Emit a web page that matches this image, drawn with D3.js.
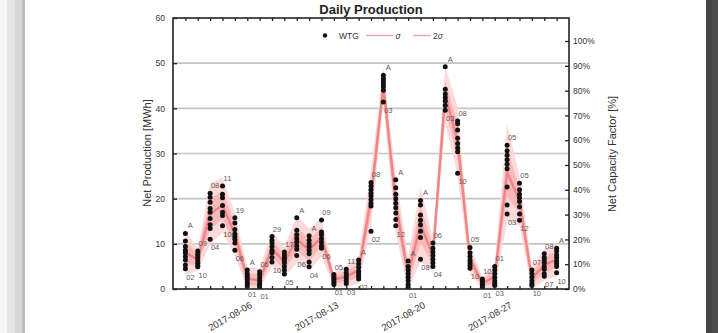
<!DOCTYPE html>
<html>
<head>
<meta charset="utf-8">
<script src="https://cdn.jsdelivr.net/npm/d3@7"></script>
<style>
  html, body { margin: 0; padding: 0; background: #fff; }
  svg { display: block; font-family: "Liberation Sans", Arial, sans-serif; }
</style>
</head>
<body>
<svg id="chart" width="718" height="333"></svg>
<script>
// ---- data ---------------------------------------------------------------
const days = [
  "2017-08-01","2017-08-02","2017-08-03","2017-08-04","2017-08-05","2017-08-06",
  "2017-08-07","2017-08-08","2017-08-09","2017-08-10","2017-08-11","2017-08-12",
  "2017-08-13","2017-08-14","2017-08-15","2017-08-16","2017-08-17","2017-08-18",
  "2017-08-19","2017-08-20","2017-08-21","2017-08-22","2017-08-23","2017-08-24",
  "2017-08-25","2017-08-26","2017-08-27","2017-08-28","2017-08-29","2017-08-30",
  "2017-08-31"
];

// net production of each turbine per day [MWh]
const wtgValues = [
  [12.3, 10.6, 9.4, 8.6, 8.0, 7.2, 6.4, 5.3, 4.5],
  [8.4, 7.8, 7.3, 6.8, 6.2, 5.7, 5.2, 4.9],
  [21.2, 20.3, 19.2, 17.8, 17.0, 15.6, 14.2, 13.4, 11.0],
  [22.8, 21.0, 20.2, 18.5, 17.0, 16.3, 14.0],
  [15.8, 14.6, 13.2, 12.2, 11.6, 11.0, 10.2, 8.6],
  [4.2, 3.4, 2.8, 2.2, 1.6, 1.1, 0.6],
  [3.8, 3.2, 2.5, 1.8, 1.2, 0.7, 0.3],
  [11.6, 10.8, 10.2, 9.4, 8.6, 8.0, 7.0, 6.0],
  [8.2, 7.6, 7.0, 6.4, 5.8, 5.0, 4.2, 3.3],
  [15.8, 13.0, 12.0, 11.2, 10.4, 9.6, 8.8, 7.4],
  [11.8, 10.8, 10.0, 9.4, 8.6, 7.8, 6.0, 4.9],
  [15.3, 12.6, 12.0, 11.2, 10.4, 9.6, 9.0],
  [3.2, 2.7, 2.3, 1.9, 1.5, 1.0],
  [4.4, 3.6, 3.0, 2.4, 1.8, 1.2],
  [6.4, 5.6, 4.8, 4.0, 3.4, 2.8, 2.2],
  [23.6, 22.8, 22.0, 21.2, 20.6, 19.8, 19.0, 18.4, 12.8],
  [47.3, 46.6, 46.0, 45.4, 44.8, 44.0, 41.4],
  [24.2, 22.4, 21.0, 20.0, 19.0, 18.0, 16.8, 15.4, 14.0],
  [6.2, 5.0, 4.2, 3.4, 2.6, 1.8, 1.0, 0.4],
  [19.6, 18.6, 16.4, 15.2, 14.2, 12.8, 11.4, 6.6],
  [10.2, 9.0, 8.2, 7.4, 6.6, 5.8, 5.0],
  [49.2, 44.2, 43.2, 42.4, 41.6, 40.6, 39.6],
  [37.2, 36.6, 35.2, 33.4, 32.2, 31.2, 30.4, 25.6],
  [9.2, 8.0, 7.2, 6.4, 5.8, 5.2, 4.6],
  [2.2, 1.8, 1.4, 1.0, 0.7, 0.4],
  [5.0, 4.2, 3.4, 2.6, 1.8, 1.2, 0.8],
  [31.8, 30.6, 29.6, 28.6, 27.6, 26.6, 22.6, 18.6, 16.6],
  [23.4, 22.0, 21.0, 20.2, 19.4, 18.2, 16.6, 15.2],
  [4.2, 3.4, 2.6, 1.8, 1.2, 0.8],
  [7.8, 7.0, 6.4, 5.8, 5.0, 4.4, 3.4, 2.8],
  [9.0, 8.4, 7.6, 7.0, 6.2, 5.6, 5.0, 3.6]
];

// turbine ids annotated at each day's highest and lowest value
const maxLabels = ["A","09","08","11","19","A","06","29","17","A","A","09","05","11","A","08",
                   "A","A","A","A","06","A","08","05","10","01","05","05","07","08","A"];
const minLabels = ["02","10","04","10","06","01","01","10","05","06","04","06","01","03","02","02",
                   "03","12","01","08","04","03","10","10","01","03","03","12","10","07","10"];

const yTicks = [0, 10, 20, 30, 40, 50, 60];
const gridValues = [10, 20, 30, 40, 50];
const cfTicks = [0, 0.1, 0.2, 0.3, 0.4, 0.5, 0.6, 0.7, 0.8, 0.9, 1.0];
const dateTicks = ["2017-08-06", "2017-08-13", "2017-08-20", "2017-08-27"];
const farmCapacity = 54.9;   // MWh per day at 100 % capacity factor

// ---- layout -------------------------------------------------------------
const svg = d3.select("#chart");
const L = 173, R = 569, T = 18, B = 289;
const parse = d3.timeParse("%Y-%m-%d");
const dates = days.map(parse);

const x = d3.scaleTime()
  .domain([d3.timeDay.offset(dates[0], -1), d3.timeDay.offset(dates[dates.length - 1], 1)])
  .range([L, R]);
const y = d3.scaleLinear().domain([0, 60]).range([B, T]);
const yCF = d3.scaleLinear().domain([0, 60 / farmCapacity]).range([B, T]);

// window frame stripes
const frame = [
  [0, 7, "#f7f7f7"], [7, 8, "#e4e4e4"], [15, 7, "#d8d8d8"], [22, 3, "#c0c0c0"],
  [706, 6, "#444444"], [712, 6, "#4c4c4c"]
];
svg.selectAll("rect.frame").data(frame).join("rect")
  .attr("class", "frame")
  .attr("x", d => d[0]).attr("y", 0).attr("width", d => d[1]).attr("height", 333)
  .attr("fill", d => d[2]);

// horizontal grid
svg.append("g").selectAll("line").data(gridValues).join("line")
  .attr("x1", L).attr("x2", R)
  .attr("y1", d => y(d)).attr("y2", d => y(d))
  .attr("stroke", "#c4c4c4").attr("stroke-width", 1.6);

// daily statistics
const stats = dates.map((d, i) => {
  const v = wtgValues[i];
  return { date: d, mean: d3.mean(v), sd: d3.deviation(v) || 0 };
});

svg.append("clipPath").attr("id", "plotClip")
  .append("rect").attr("x", L).attr("y", T).attr("width", R - L).attr("height", B - T);

const plot = svg.append("g").attr("clip-path", "url(#plotClip)");

const band = k => d3.area()
  .x(d => x(d.date))
  .y0(d => y(Math.max(0, d.mean - k * d.sd)))
  .y1(d => y(d.mean + k * d.sd));

plot.append("path").datum(stats).attr("d", band(2))
  .attr("fill", "#fbd3d3").attr("opacity", 0.85);
plot.append("path").datum(stats).attr("d", band(1))
  .attr("fill", "#f6aeae").attr("opacity", 0.75);
plot.append("path").datum(stats)
  .attr("d", d3.line().x(d => x(d.date)).y(d => y(d.mean)))
  .attr("fill", "none").attr("stroke", "#f08585").attr("stroke-width", 2.4);

// turbine points
const points = dates.flatMap((d, i) => wtgValues[i].map(v => ({ date: d, v })));
plot.append("g").selectAll("circle").data(points).join("circle")
  .attr("cx", d => x(d.date)).attr("cy", d => y(d.v)).attr("r", 2.5)
  .attr("fill", "#111");

// max / min turbine annotations
const ann = svg.append("g").attr("font-size", 7.5).attr("fill", "#555")
  .attr("text-anchor", "middle").attr("opacity", 0.95);
dates.forEach((d, i) => {
  const v = wtgValues[i];
  ann.append("text").attr("x", x(d) + 5).attr("y", y(d3.max(v)) - 5).text(maxLabels[i]);
  ann.append("text").attr("x", x(d) + 5).attr("y", y(d3.min(v)) + 11).text(minLabels[i]);
});

// axes
const axisStyle = g => {
  g.select(".domain").remove();
  g.selectAll(".tick line").attr("stroke", "#222").attr("stroke-width", 1.3);
  g.selectAll(".tick text").attr("fill", "#333").attr("font-family", "'Liberation Sans', Arial, sans-serif");
};

svg.append("g").attr("transform", `translate(${L},0)`)
  .call(d3.axisLeft(y).tickValues(yTicks).tickSize(-4).tickPadding(8))
  .attr("font-size", 8.5).call(axisStyle);

svg.append("g").attr("transform", `translate(${R},0)`)
  .call(d3.axisRight(yCF).tickValues(cfTicks).tickSize(-4).tickPadding(4).tickFormat(d3.format(".0%")))
  .attr("font-size", 8.5).call(axisStyle);

const dayTicks = d3.timeDay.range(dates[0], d3.timeDay.offset(dates[dates.length - 1], 1));
svg.append("g").attr("transform", `translate(0,${T})`)
  .call(d3.axisTop(x).tickValues(dayTicks).tickSize(-3).tickFormat(""))
  .call(axisStyle);
svg.append("g").attr("transform", `translate(0,${B})`)
  .call(d3.axisBottom(x).tickValues(dayTicks).tickSize(-3).tickFormat(""))
  .call(axisStyle);

const fmt = d3.timeFormat("%Y-%m-%d");
const xLab = svg.append("g").attr("transform", `translate(0,${B})`)
  .call(d3.axisBottom(x).tickValues(dateTicks.map(parse)).tickSize(0).tickFormat(fmt))
  .attr("font-size", 9.5).call(axisStyle);
xLab.selectAll(".tick text")
  .attr("text-anchor", "end")
  .attr("y", 0)
  .attr("dy", 0)
  .attr("transform", "translate(5,18) rotate(-30)");

// plot box
svg.append("rect").attr("x", L).attr("y", T).attr("width", R - L).attr("height", B - T)
  .attr("fill", "none").attr("stroke", "#222").attr("stroke-width", 1.6);

// titles
svg.append("text").attr("x", 371).attr("y", 14).attr("text-anchor", "middle")
  .attr("font-size", 13).attr("font-weight", "bold").attr("fill", "#222")
  .text("Daily Production");
svg.append("text").attr("transform", "translate(151,153) rotate(-90)")
  .attr("text-anchor", "middle").attr("font-size", 11).attr("fill", "#333")
  .text("Net Production [MWh]");
svg.append("text").attr("transform", "translate(616,154) rotate(-90)")
  .attr("text-anchor", "middle").attr("font-size", 11).attr("fill", "#333")
  .text("Net Capacity Factor [%]");

// legend
const lg = svg.append("g").attr("font-size", 8.5).attr("fill", "#333");
lg.append("circle").attr("cx", 325).attr("cy", 35.5).attr("r", 2.2).attr("fill", "#111");
lg.append("text").attr("x", 339).attr("y", 38.5).text("WTG");
lg.append("line").attr("x1", 366).attr("x2", 393).attr("y1", 35.5).attr("y2", 35.5)
  .attr("stroke", "#f3a0a0").attr("stroke-width", 1.3);
lg.append("text").attr("x", 395.5).attr("y", 38.5).attr("font-style", "italic").text("σ");
lg.append("line").attr("x1", 413).attr("x2", 431).attr("y1", 35.5).attr("y2", 35.5)
  .attr("stroke", "#f3a0a0").attr("stroke-width", 1.3);
lg.append("text").attr("x", 433).attr("y", 38.5).text("2").append("tspan")
  .attr("font-style", "italic").text("σ");
</script>
</body>
</html>
